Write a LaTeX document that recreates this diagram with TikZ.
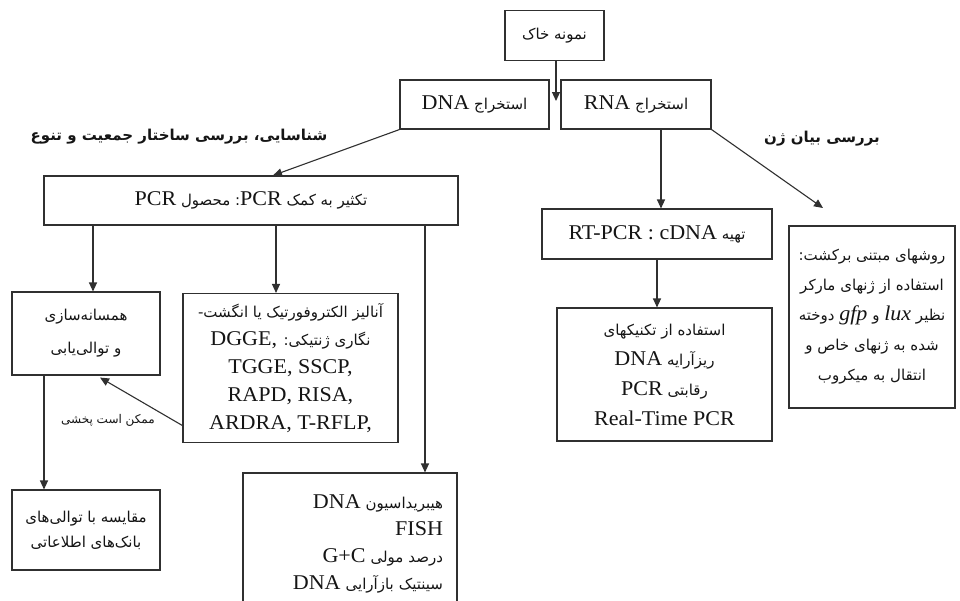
\documentclass[tikz,border=0pt]{standalone}
\usepackage{fontspec}
\setmainfont{Liberation Serif}[FakeStretch=1.05]
\newfontfamily\fa[Script=Arabic]{DejaVu Sans}
\usetikzlibrary{arrows.meta}
\TeXXeTstate=1
\newcommand\rtl[1]{\beginR#1\endR}
\newcommand\lat[1]{{\rmfamily\fontsize{21}{29}\selectfont #1}}
\newcommand\La[1]{\beginL\lat{#1}\endL}
\definecolor{linec}{HTML}{303030}
\definecolor{txtc}{HTML}{151515}
\begin{document}
\begin{tikzpicture}[x=1pt,y=-1pt,
  box/.style={draw=linec, line width=1.1pt, fill=white, align=center, inner sep=0pt, text=txtc,
    font=\fa\fontsize{15}{29}\selectfont},
  title/.style={inner sep=0pt, text=txtc, font=\fa\bfseries\fontsize{15}{17}\selectfont},
  lbl/.style={inner sep=0pt, text=txtc, font=\fa\fontsize{12}{14}\selectfont},
  arr/.style={draw=linec, line width=1.1pt, -{Triangle[length=9pt,width=8pt]}},
  ln/.style={draw=linec, line width=1.1pt}]
\clip (0,0) rectangle (960,600);
\fill[white] (0,0) rectangle (960,600);

\node[box, minimum width=99pt, minimum height=50pt] (soil) at (554.5,35.5) {\rtl{نمونه خاک}};
\node[box, minimum width=149pt, minimum height=49pt] (dna) at (474.5,104.5) {\rtl{استخراج \La{DNA}}};
\node[box, minimum width=150pt, minimum height=49pt] (rna) at (636,104.5) {\rtl{استخراج \La{RNA}}};
\node[title] (t1) at (179,137) {\rtl{شناسایی، بررسی ساختار جمعیت و تنوع}};
\node[title] (t2) at (822,139) {\rtl{بررسی بیان ژن}};
\node[box, minimum width=414pt, minimum height=49pt] (pcr) at (251,200.5) {\rtl{تکثیر به کمک \La{PCR}: محصول \La{PCR}}};

\node[box, minimum width=148pt, minimum height=83pt, font=\fa\fontsize{15}{33}\selectfont] (clone) at (86,333.5)
  {\rtl{همسانه‌سازی}\\\rtl{و توالی‌یابی}};
\node[box, minimum width=215pt, minimum height=149pt, font=\fa\fontsize{15}{28}\selectfont] (anal) at (290.5,368)
  {\rtl{آنالیز الکتروفورتیک یا انگشت-}\\\rtl{نگاری ژنتیکی: \La{DGGE,}}\\\lat{TGGE, SSCP,}\\\lat{RAPD, RISA,}\\\lat{ARDRA, T-RFLP,}};
\node[lbl] (may) at (108,420) {\rtl{ممکن است پخشی}};
\node[box, minimum width=148pt, minimum height=80pt, font=\fa\fontsize{15}{25}\selectfont] (cmp) at (86,530)
  {\rtl{مقایسه با توالی‌های}\\\rtl{بانک‌های اطلاعاتی}};
\node[box, minimum width=214pt, minimum height=142pt, text width=186pt, inner xsep=14pt, align=right,
  font=\fa\fontsize{15}{27}\selectfont] (hyb) at (350,544)
  {\rtl{هیبریداسیون \La{DNA}}\\\lat{FISH}\\\rtl{درصد مولی \La{G+C}}\\\rtl{سینتیک بازآرایی \La{DNA}}};

\node[box, minimum width=230pt, minimum height=50pt] (rt) at (657,234) {\rtl{تهیه \La{RT-PCR : cDNA}}};
\node[box, minimum width=215pt, minimum height=133pt, font=\fa\fontsize{15}{30}\selectfont] (tech) at (664.5,374.5)
  {\rtl{استفاده از تکنیکهای}\\\rtl{ریزآرایه \La{DNA}}\\\rtl{رقابتی \La{PCR}}\\\lat{Real-Time PCR}};
\node[box, minimum width=166pt, minimum height=182pt, font=\fa\fontsize{15}{30}\selectfont] (rev) at (872,317)
  {\rtl{روشهای مبتنی برکشت:}\\\rtl{استفاده از ژنهای مارکر}\\\rtl{نظیر \La{\itshape lux} و \La{\itshape gfp} دوخته}\\\rtl{شده به ژنهای خاص و}\\\rtl{انتقال به میکروب}};

\coordinate (sj) at (556,101);
\coordinate (revtip) at (823,208);

\draw[arr] ([xshift=1.5pt]soil.south) -- (sj);
\draw[arr] (dna.south west) -- ([xshift=22pt]pcr.north);
\draw[arr] ([xshift=-158pt]pcr.south) -- ([xshift=7pt]clone.north);
\draw[arr] ([xshift=25pt]pcr.south) -- ([xshift=-14.5pt]anal.north);
\draw[arr] ([xshift=174pt]pcr.south) -- ([xshift=75pt]hyb.north);
\draw[arr] ([yshift=17.5pt]anal.south west) -- ([xshift=14pt,yshift=-2pt]clone.south);
\draw[arr] ([xshift=-42pt]clone.south) -- ([xshift=-42pt]cmp.north);
\draw[arr] ([xshift=25pt]rna.south) -- ([xshift=4pt]rt.north);
\draw[arr] (rna.south east) -- (revtip);
\draw[arr] (rt.south) -- ([xshift=-7.5pt]tech.north);
\end{tikzpicture}
\end{document}
